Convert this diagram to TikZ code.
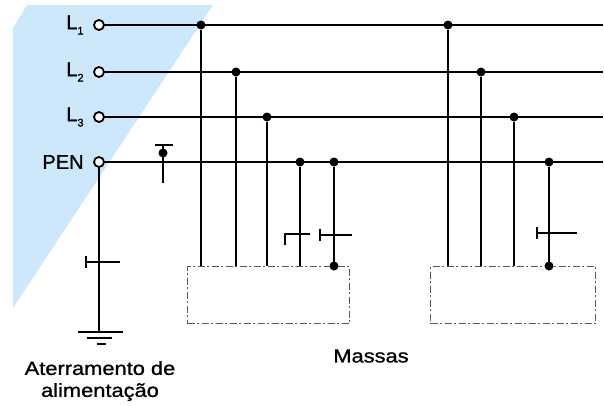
\documentclass[tikz,border=0pt]{standalone}
\usepackage{fontspec}
\setmainfont{Liberation Sans}[FakeBold=1]
\newfontfamily\largo{Liberation Sans}[FakeStretch=1.15,FakeBold=1]
\usetikzlibrary{positioning}
\definecolor{azul}{RGB}{204,232,250}
\newcommand{\fase}[1]{L\raisebox{-0.5ex}{\fontsize{11}{11}\selectfont #1}}
\begin{document}
\begin{tikzpicture}[x=1pt,y=-1pt,line cap=butt,line join=miter,font=\fontsize{20}{22}\selectfont]
	\tikzset{term/.style={circle,draw,line width=1.8pt,fill=white,inner sep=0pt,minimum size=10pt},
		dot/.style={circle,fill,inner sep=0pt,minimum size=9pt},
		wire/.style={line width=2.2pt},
		massa/.style={draw=black!65,line width=1pt,dash pattern=on 7pt off 2.5pt on 2pt off 2.5pt,
			inner sep=0pt,anchor=north west}}
	\useasboundingbox (0,0) rectangle (604,405);
	\fill[azul] (13,28)--(27,5)--(213,5)--(13,308)--cycle;
	% condutores
	\foreach \n/\y/\t in {L1/25/\fase1,L2/72/\fase2,L3/117/\fase3,PEN/162/PEN}{
		\coordinate (e\n) at (603,\y);
		\draw[wire] (99,\y)--(e\n);
		\node[term] (\n) at (99,\y) {};
		\node[left=6pt of \n] (l\n) {\t};}
	% massas
	\node[massa,minimum width=162pt,minimum height=57pt] (M1) at (187,266) {};
	\node[massa,minimum width=165pt,minimum height=57pt] (M2) at (430,266) {};
	\foreach \x/\y in {201/25,236/72,267/117,300/162,334/162,448/25,481/72,514/117,549/162}{
		\node[dot] (d\x) at (\x,\y) {};
		\coordinate (b\x) at (\x,266);
		\draw[wire] (d\x)--(b\x);}
	\node[dot] (m334) at (b334) {};
	\node[dot] (m549) at (b549) {};
	% chaves
	\draw[wire] (285,245)--(285,234)--(310,234);
	\draw[wire] (320,235)--(352,235) (320,229)--(320,241);
	\draw[wire] (537,233)--(577,233) (537,227)--(537,239);
	\draw[wire] (155,145)--(173,145) (163,145)--(163,183);
	\node[dot] (dp) at (163,153) {};
	% aterramento
	\coordinate (g) at (99,332);
	\draw[wire] (PEN)--(g);
	\draw[wire] (86,262)--(120,262) (86,256)--(86,268);
	\draw[wire] (78,332)--(123,332) (87,338)--(112,338) (97,344)--(106,344);
	\node[align=center,font=\largo\fontsize{19}{22}\selectfont] (at) at (100,381) {Aterramento de\\alimentação};
	\node[font=\largo\fontsize{19}{22}\selectfont] (ms) at (371,356) {Massas};
\end{tikzpicture}
\end{document}
